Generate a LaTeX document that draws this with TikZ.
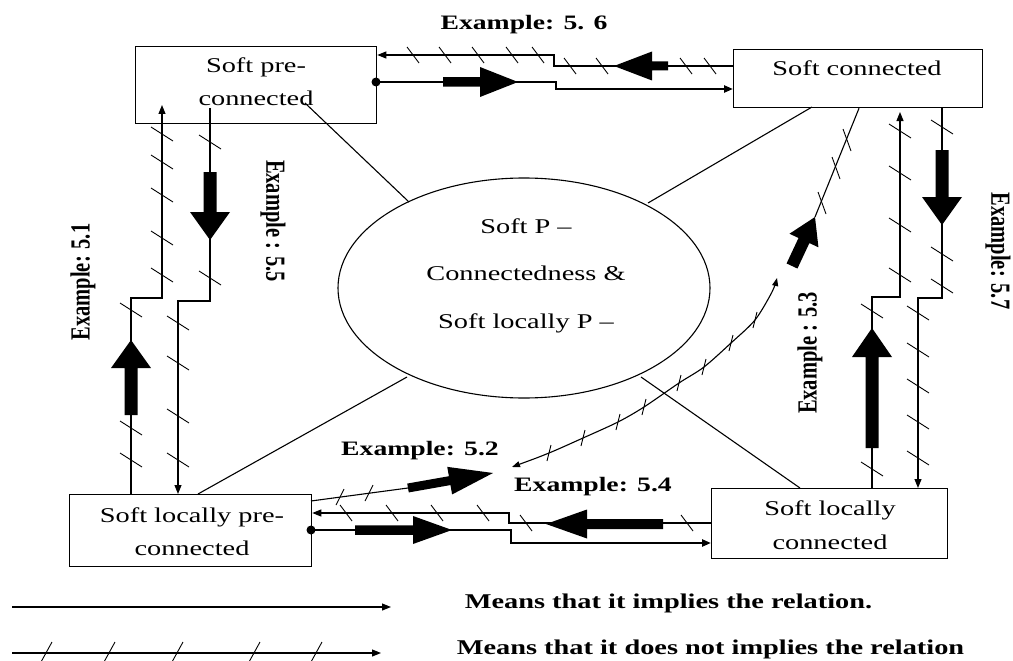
\documentclass[tikz,border=0pt]{standalone}
\usepackage{fontspec}
\setmainfont{Liberation Serif}
\usepackage{graphicx}
\usetikzlibrary{arrows.meta,calc}
\newcommand\sx[1]{\scalebox{1.35}[1]{#1}}
\newcommand\ru[1]{\rotatebox{90}{\scalebox{1}[1.35]{#1}}}
\newcommand\rdn[1]{\rotatebox{-90}{\scalebox{1}[1.35]{#1}}}
% fat arrow: #1 start, #2 tip, #3 shaft half width, #4 head half width, #5 head length
\newcommand\fat[5]{%
  \coordinate (fh) at ($#2!#5!#1$);
  \fill ($#1!#3!90:#2$) -- ($(fh)!#3!90:#2$) -- ($(fh)!#4!90:#2$) -- #2 --
        ($(fh)!#4!-90:#2$) -- ($(fh)!#3!-90:#2$) -- ($#1!#3!-90:#2$) -- cycle;}
\begin{document}
\begin{tikzpicture}[x=1pt,y=-1pt,
  box/.style={draw,line width=1.3pt,inner sep=0pt,anchor=north west},
  lbl/.style={inner sep=0pt,font=\fontsize{21}{33.5}\selectfont,align=center},
  ex/.style={inner sep=0pt,font=\fontsize{20.5}{24}\selectfont\bfseries},
  ln/.style={line width=1.1pt},
  yes/.style={line width=2.6pt},
  tip/.style={-{Triangle[length=9pt,width=7pt]}},
  both/.style={{Triangle[length=8pt,width=6pt]}-{Triangle[length=8pt,width=6pt]}},
  hatch/.style={line width=0.9pt}]
\useasboundingbox (0,0) rectangle (1013,661);

% ---------- boxes ----------
\node[box,minimum width=241pt,minimum height=77pt] (pc) at (135,46) {};
\node[box,minimum width=249pt,minimum height=58pt] (sc) at (733,49) {};
\node[box,minimum width=242pt,minimum height=72pt] (lp) at (69,494) {};
\node[box,minimum width=236pt,minimum height=70pt] (lc) at (711,488) {};
\node[lbl] (pct) at (256,81.5) {\sx{Soft pre-}\\\sx{connected}};
\node[lbl] (sct) at (857,68) {\sx{Soft connected}};
\node[lbl] (lpt) at (192,531.5) {\sx{Soft locally pre-}\\\sx{connected}};
\node[lbl] (lct) at (830,525) {\sx{Soft locally}\\\sx{connected}};

% ---------- ellipse ----------
\draw[line width=1.1pt] (524,288) ellipse [x radius=186, y radius=110];
\node[inner sep=0pt,minimum width=372pt,minimum height=220pt] (el) at (524,288) {};
\node[lbl,font=\fontsize{21}{47.5}\selectfont] (elt) at (526,275.5)
  {\sx{Soft P --}\\\sx{Connectedness \&}\\\sx{Soft locally P --}};

% spokes
\coordinate (s1a) at (305,103); \coordinate (s1b) at (409,202);
\coordinate (s2a) at (648,203); \coordinate (s2b) at (812,107);
\coordinate (s3a) at (407,377); \coordinate (s3b) at (198,494);
\coordinate (s4a) at (641,377); \coordinate (s4b) at (800,488);
\draw[ln] (s1a) -- (s1b);
\draw[ln] (s2a) -- (s2b);
\draw[ln] (s3a) -- (s3b);
\draw[ln] (s4a) -- (s4b);

% ---------- left pair ----------
\coordinate (a1) at (131,298); \coordinate (a2) at (162,298); \coordinate (a3) at (162,105);
\draw[ln,tip] (a1 |- lp.north) -- (a1) -- (a2) -- (a3);
\coordinate (b0) at (210,108); \coordinate (b1) at (210,301); \coordinate (b2) at (178,301);
\draw[ln,tip] (b0) -- (b1) -- (b2) -- (b2 |- lp.north);
\foreach \y in {134,162,195,238,275} \draw[hatch] (151,\y-7) -- (173,\y+7);
\foreach \y in {310,428,460} \draw[hatch] (120,\y-7) -- (142,\y+7);
\foreach \y in {142,278} \draw[hatch] (199,\y-7) -- (221,\y+7);
\foreach \y in {323,363,416,460} \draw[hatch] (167,\y-7) -- (189,\y+7);
\coordinate (fa0) at (131,415); \coordinate (fa1) at (131,340);
\fat{(fa0)}{(fa1)}{6.5pt}{20pt}{28pt}
\coordinate (fb0) at (210,172); \coordinate (fb1) at (210,240);
\fat{(fb0)}{(fb1)}{6.5pt}{20pt}{28pt}

% ---------- right pair ----------
\coordinate (c1) at (872,297); \coordinate (c2) at (900,297); \coordinate (c3) at (900,112);
\draw[ln,tip] (c1 |- lc.north) -- (c1) -- (c2) -- (c3);
\coordinate (d1) at (942,298); \coordinate (d2) at (918,298);
\draw[ln,tip] (d1 |- sc.south) -- (d1) -- (d2) -- (d2 |- lc.north);
\foreach \y in {131,173,225,275} \draw[hatch] (889,\y-7) -- (911,\y+7);
\foreach \y in {311,469} \draw[hatch] (861,\y-7) -- (883,\y+7);
\foreach \y in {127,254,286} \draw[hatch] (931,\y-7) -- (953,\y+7);
\foreach \y in {313,350,386,422,458} \draw[hatch] (907,\y-7) -- (929,\y+7);
\coordinate (fc0) at (872,448); \coordinate (fc1) at (872,328);
\fat{(fc0)}{(fc1)}{6.5pt}{20pt}{29pt}
\coordinate (fd0) at (942,150); \coordinate (fd1) at (942,225);
\fat{(fd0)}{(fd1)}{6.5pt}{20pt}{28pt}

% ---------- top pair ----------
\coordinate (e1) at (554,66); \coordinate (e2) at (554,55);
\draw[ln,tip] (sc.west |- e1) -- (e1) -- (e2) -- (pc.east |- e2);
\foreach \x in {413,445,478,512,538} \draw[hatch] (\x-6,47) -- (\x+6,63);
\foreach \x in {570,602,686,710} \draw[hatch] (\x-6,58) -- (\x+6,74);
\coordinate (fe0) at (668,66); \coordinate (fe1) at (614,66);
\fat{(fe0)}{(fe1)}{4.5pt}{14.5pt}{38pt}
\coordinate (f0) at (376,82); \coordinate (f1) at (556,82); \coordinate (f2) at (556,89);
\fill (f0) circle[radius=4.5pt];
\draw[yes,tip] (f0) -- (f1) -- (f2) -- (sc.west |- f2);
\coordinate (ff0) at (443,82); \coordinate (ff1) at (518,82);
\fat{(ff0)}{(ff1)}{4.75pt}{15pt}{38pt}

% ---------- bottom pair ----------
\coordinate (g1) at (509,523); \coordinate (g2) at (509,513);
\draw[ln,tip] (lc.west |- g1) -- (g1) -- (g2) -- (lp.east |- g2);
\foreach \x in {346,392,437,483} \draw[hatch] (\x-6,505) -- (\x+6,521);
\foreach \x in {526,687} \draw[hatch] (\x-6,515) -- (\x+6,531);
\coordinate (fg0) at (663,524); \coordinate (fg1) at (546,524);
\fat{(fg0)}{(fg1)}{5pt}{14.5pt}{41pt}
\coordinate (h0) at (311,530); \coordinate (h1) at (511,530); \coordinate (h2) at (511,543);
\fill (h0) circle[radius=4.5pt];
\draw[yes,tip] (h0) -- (h1) -- (h2) -- (lc.west |- h2);
\coordinate (fh0) at (355,530); \coordinate (fh1) at (452,530);
\fat{(fh0)}{(fh1)}{4.75pt}{14pt}{39pt}

% ---------- diagonal 5.2 / 5.3 ----------
\coordinate (k0) at (311,501); \coordinate (k1) at (408,488); \coordinate (k2) at (493,473);
\draw[ln] (k0) -- (k1);
\fat{(k1)}{(k2)}{4.5pt}{14pt}{44pt}
\foreach \x/\y in {340/497,369/493} \draw[hatch] (\x-4,\y+8) -- (\x+4,\y-8);
\coordinate (m0) at (512,467); \coordinate (m1) at (777,278);
\draw[ln,both] plot[smooth] coordinates {(m0) (549,453) (583,438) (618,422) (644,407) (679,383) (704,367) (731,343) (755,320) (772,292) (m1)};
\foreach \x/\y in {549/453,583/438,618/422,644/407,679/383,704/367,731/343,755/320}
  \draw[hatch] (\x-2,\y+8) -- (\x+2,\y-8);
\coordinate (n0) at (792,266); \coordinate (n1) at (815,217); \coordinate (n2) at (859,107);
\fat{(n0)}{(n1)}{6pt}{16pt}{26pt}
\draw[ln] (n1) -- (n2 |- sc.south);
\foreach \x/\y in {822/203,836/168,847/140} \draw[hatch] (\x-4,\y-11) -- (\x+4,\y+11);

% ---------- example labels ----------
\node[ex] (x56) at (524,25) {\sx{Example: 5. 6}};
\node[ex] (x52) at (420,451) {\sx{Example: 5.2}};
\node[ex] (x54) at (593,487) {\sx{Example: 5.4}};
\node[ex] (x51) at (83,282) {\ru{Example: 5.1}};
\node[ex] (x55) at (273,221) {\rdn{Example : 5.5}};
\node[ex] (x53) at (810,353) {\ru{Example : 5.3}};
\node[ex] (x57) at (998,251) {\rdn{Example: 5.7}};

% ---------- legend ----------
\coordinate (l1a) at (12,607); \coordinate (l1b) at (391,607);
\draw[ln,tip] (l1a) -- (l1b);
\coordinate (l2a) at (12,653); \coordinate (l2b) at (381,653);
\draw[ln,tip] (l2a) -- (l2b);
\foreach \x in {47,110,178,255,317} \draw[hatch] (\x-6,662) -- (\x+5,642);
\node[ex,font=\fontsize{21}{24}\selectfont\bfseries] (lg1) at (668.5,603) {\sx{Means that it implies the relation.}};
\node[ex,font=\fontsize{21}{24}\selectfont\bfseries] (lg2) at (710.5,649) {\sx{Means that it does not implies the relation}};
\end{tikzpicture}
\end{document}
